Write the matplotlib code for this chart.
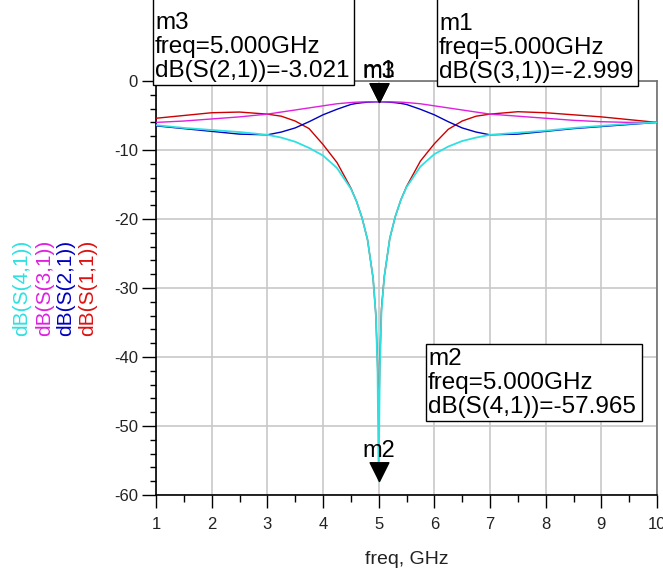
import matplotlib
matplotlib.use('Agg')
import matplotlib.pyplot as plt
from matplotlib.path import Path
from matplotlib.patches import Rectangle
from matplotlib.ticker import MultipleLocator

plt.rcParams['font.family'] = ['Liberation Sans', 'DejaVu Sans']
plt.rcParams['axes.unicode_minus'] = False

# ---------------- data ----------------
freq = [1.0, 1.5, 2.0, 2.5, 3.0, 3.25, 3.5, 3.75, 4.0, 4.25, 4.5, 4.6, 4.7, 4.8, 4.9, 4.95, 4.98, 5.0,
        5.02, 5.05, 5.1, 5.2, 5.3, 5.4, 5.5, 5.75, 6.0, 6.25, 6.5, 6.75, 7.0, 7.5, 8.0, 8.5, 9.0, 9.5, 10.0]

s11 = [-5.4, -5.0, -4.6, -4.5, -4.8, -5.1, -5.8, -6.9, -9.2, -11.8, -15.5, -17.4, -19.8, -23.0, -28.6, -34.0, -41.0, -50.0,
       -41.0, -33.0, -28.4, -22.8, -19.6, -17.2, -15.3, -11.6, -9.1, -7.0, -5.8, -5.1, -4.8, -4.45, -4.6, -4.9, -5.2, -5.6, -6.0]

s21 = [-6.5, -6.9, -7.3, -7.7, -7.8, -7.4, -6.8, -5.9, -4.9, -4.1, -3.4, -3.25, -3.15, -3.07, -3.03, -3.02, -3.02, -3.021,
       -3.02, -3.02, -3.03, -3.07, -3.15, -3.25, -3.4, -4.1, -4.9, -5.9, -6.8, -7.4, -7.8, -7.7, -7.3, -6.9, -6.6, -6.3, -6.0]

s31 = [-6.0, -5.8, -5.5, -5.2, -4.8, -4.5, -4.2, -3.9, -3.6, -3.3, -3.12, -3.07, -3.04, -3.02, -3.0, -3.0, -3.0, -2.999,
       -3.0, -3.0, -3.0, -3.02, -3.04, -3.07, -3.12, -3.3, -3.6, -3.9, -4.2, -4.5, -4.8, -5.1, -5.4, -5.7, -5.9, -6.0, -6.0]

s41 = [-6.4, -6.8, -7.1, -7.4, -7.8, -8.2, -8.8, -9.7, -10.8, -12.6, -15.6, -17.4, -19.8, -23.0, -28.6, -34.0, -42.0, -57.965,
       -42.0, -33.5, -28.4, -22.8, -19.6, -17.2, -15.4, -12.4, -10.6, -9.5, -8.7, -8.2, -7.8, -7.5, -7.2, -6.8, -6.5, -6.2, -6.0]

series_names = ['dB(S(4,1))', 'dB(S(3,1))', 'dB(S(2,1))', 'dB(S(1,1))']

marker_names = ['m1', 'm2', 'm3']
marker_freq = [5.000, 5.000, 5.000]
marker_vals = [-2.999, -57.965, -3.021]
marker_traces = ['dB(S(3,1))', 'dB(S(4,1))', 'dB(S(2,1))']

xticks = [1, 2, 3, 4, 5, 6, 7, 8, 9, 10]
yticks = [0, -10, -20, -30, -40, -50, -60]

# ---------------- layout ----------------
W, H = 663, 571
fig = plt.figure(figsize=(W / 100, H / 100), dpi=100)


def fx(px):
    return px / W


def fy(py):
    return 1 - py / H


ax = fig.add_axes([fx(156), fy(495), fx(657) - fx(156), fy(81) - fy(495)])

c_red, c_blue, c_mag, c_cyan = '#cc0000', '#0000c0', '#e020e0', '#30e0e0'

ax.plot(freq, s11, color=c_red, lw=1.0, zorder=3)
ax.plot(freq, s21, color=c_blue, lw=1.0, zorder=3)
ax.plot(freq, s31, color=c_mag, lw=1.0, zorder=3)
ax.plot(freq, s41, color=c_cyan, lw=1.3, zorder=3.5)

ax.set_xlim(1, 10)
ax.set_ylim(-60, 0)
ax.set_xticks(xticks)
ax.set_yticks(yticks)
ax.xaxis.set_minor_locator(MultipleLocator(0.5))
ax.yaxis.set_minor_locator(MultipleLocator(2))
ax.grid(which='major', color='#c8c8c8', lw=1.2)
ax.set_axisbelow(True)

ax.tick_params(axis='x', which='major', direction='out', length=9.5, width=1.0, pad=6, labelsize=12, labelcolor='#222222')
ax.tick_params(axis='x', which='minor', direction='out', length=5, width=1.0)
ax.tick_params(axis='y', which='major', direction='out', length=10, width=1.0, pad=3, labelsize=12, labelcolor='#222222')
ax.tick_params(axis='y', which='minor', direction='out', length=4, width=1.0)

for s in ['left', 'bottom']:
    ax.spines[s].set_color('black')
    ax.spines[s].set_linewidth(1.2)
for s in ['top', 'right']:
    ax.spines[s].set_color('#707070')
    ax.spines[s].set_linewidth(1.2)

# marker triangles (tip at data point)
tri = Path([(-0.5, 1.0), (0.5, 1.0), (0.0, 0.0), (-0.5, 1.0)],
           [Path.MOVETO, Path.LINETO, Path.LINETO, Path.CLOSEPOLY])
for name, mf, mv in zip(marker_names, marker_freq, marker_vals):
    ax.plot([mf], [mv], marker=tri, markersize=27, color='black', lw=0, zorder=6, clip_on=False)
    ax.annotate(name, xy=(mf, mv), xytext=(0, 17.5), textcoords='offset points',
                ha='center', va='baseline', fontsize=17, zorder=7, annotation_clip=False)

# marker readout boxes
fs = 17.5
boxes = [
    # (left, right, top, bottom, marker index)
    (153, 354, -30, 85, 2),
    (437, 638, -30, 86, 0),
    (426, 642, 344, 421, 1),
]
for left, right, top, bottom, mi in boxes:
    rect = Rectangle((fx(left), fy(bottom)), fx(right) - fx(left), fy(top) - fy(bottom),
                     transform=fig.transFigure, facecolor='white', edgecolor='black', lw=1.0, zorder=10)
    fig.add_artist(rect)
    base = bottom - 8
    lines = [marker_names[mi],
             'freq=%.3fGHz' % marker_freq[mi],
             '%s=%.3f' % (marker_traces[mi], marker_vals[mi])]
    for k, txt in enumerate(lines):
        fig.text(fx(left + 2), fy(base - (2 - k) * 24), txt, fontsize=fs, ha='left', va='baseline', zorder=11)

# coloured y-axis labels
label_cols = [c_cyan, c_mag, c_blue, '#dd1111']
for xpix, name, col in zip([22, 45, 66, 88], series_names, label_cols):
    fig.text(fx(xpix), fy(288), name, rotation=90, color=col, fontsize=15, ha='center', va='center')

fig.text(fx(406.5), fy(564), 'freq, GHz', fontsize=14, ha='center', va='baseline', color='#222222')

fig.savefig('out.png', dpi=100)
